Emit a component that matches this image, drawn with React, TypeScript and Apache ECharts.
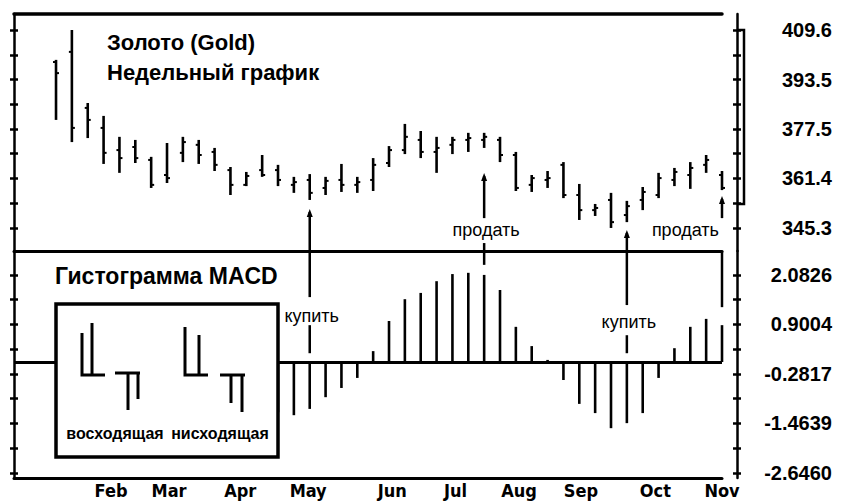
import React, { useEffect, useRef } from "react";
import * as echarts from "echarts";

// Weekly gold bars (week index 0..42)
const highs = [399.9, 409.6, 385.9, 381.7, 374.9, 373.9, 368.4, 372.9, 374.9, 373.9, 371.3, 365.1, 363.5, 369.0, 365.8, 361.9, 362.8, 361.9, 366.1, 361.9, 368.0, 371.9, 379.1, 376.8, 374.9, 374.9, 376.2, 376.2, 374.9, 370.0, 362.5, 363.8, 366.7, 359.6, 353.1, 356.7, 354.1, 358.6, 363.2, 364.8, 366.7, 369.0, 363.8];
const lows = [380.4, 373.2, 374.5, 366.1, 363.2, 366.4, 358.3, 359.9, 366.7, 366.1, 363.8, 356.0, 358.9, 361.9, 358.9, 356.7, 354.4, 356.0, 357.0, 356.7, 357.3, 365.1, 369.3, 368.0, 363.2, 369.3, 370.0, 371.3, 366.7, 357.3, 357.0, 358.3, 355.0, 347.9, 349.2, 345.3, 347.2, 351.1, 355.0, 358.9, 358.0, 363.2, 357.6];
const opens = [399.2, 402.5, 384.3, 377.8, 370.6, 371.6, 367.4, 362.5, 369.7, 372.3, 370.0, 364.1, 359.3, 364.1, 364.1, 359.3, 360.9, 358.3, 360.9, 359.3, 360.9, 366.4, 370.6, 373.9, 370.0, 372.3, 373.9, 373.9, 373.9, 369.0, 359.3, 360.9, 365.8, 356.0, 351.1, 354.4, 349.5, 354.4, 356.0, 360.9, 362.5, 365.8, 362.5];
const closes = [395.6, 377.8, 380.4, 369.7, 368.0, 368.0, 359.3, 361.5, 373.2, 369.0, 365.8, 359.3, 362.2, 362.5, 360.9, 360.2, 356.7, 360.6, 359.3, 360.2, 365.8, 370.6, 374.9, 370.0, 371.3, 373.9, 374.5, 374.9, 369.0, 358.3, 361.5, 361.5, 356.0, 351.1, 351.8, 347.2, 352.4, 357.0, 361.5, 363.5, 364.8, 367.4, 358.3];

// MACD histogram (weeks 0..13 hidden behind the legend box)
const macdHist: (number | null)[] = [null, null, null, null, null, null, null, null, null, null, null, null, null, null, -1.2, -1.27, -1.12, -0.84, -0.62, -0.38, 0.26, 0.98, 1.5, 1.65, 1.93, 2.1, 2.13, 2.08, 1.72, 0.84, 0.38, 0.05, -0.43, -1.0, -1.22, -1.58, -1.46, -1.22, -0.38, 0.33, 0.84, 1.03, 0.88];

// Month labels and their position in week units
const monthLabels = ["Feb", "Mar", "Apr", "May", "Jun", "Jul", "Aug", "Sep", "Oct", "Nov"];
const monthPositions = [3.47, 7.13, 11.62, 15.9, 21.2, 25.2, 29.2, 33.1, 37.8, 42.0];

// Axis ticks and labels
const priceLabels = [345.3, 361.4, 377.5, 393.5, 409.6];
const priceTicks = [345.3, 353.34, 361.4, 369.45, 377.5, 385.5, 393.5, 401.55, 409.6];
const macdLabels = [2.0826, 0.9004, -0.2817, -1.4639, -2.646];
const macdTicks = [2.6737, 2.0826, 1.4915, 0.9004, 0.3094, -0.2817, -0.8728, -1.4639, -2.055, -2.646];

// Trading signals
const signalWeeks = [16, 27, 36, 42];
const signalNames = ["купить", "продать", "купить", "продать"];
const signalPriceSegments = [[[350.5, 337.8]], [[362.2, 348.5], [340.4, 337.8]], [[343.7, 337.8]], [[354.7, 348.5]]];
const signalMacdSegments = [[[2.66, 1.55], [0.88, 0.21]], [[2.66, 2.32]], [[2.66, 1.36], [0.64, 0.21]], [[2.66, 1.31]]];
const signalLabelPrice: (number | null)[] = [null, 344.6, null, 344.6];
const signalLabelMacd: (number | null)[] = [1.1, null, 0.96, null];

const PRICE_MIN = 337.82;
const PRICE_MAX = 414.8;
const MACD_MIN = -2.77;
const MACD_MAX = 2.651;
const X_MIN = -2.65;
const X_MAX = 42;

const BOLD = "bold 22px 'Liberation Sans', Arial, sans-serif";

export default function App() {
  const ref = useRef<HTMLDivElement>(null);
  useEffect(() => {
    if (!ref.current) return;
    const chart = echarts.init(ref.current, null, { renderer: "svg" });

    const ohlc = highs.map((h, i) => [i, h, lows[i], opens[i], closes[i]]);
    const hist = macdHist
      .map((v, i) => (v === null ? null : [i, v]))
      .filter((d) => d !== null);

    const priceSegs: number[][] = [];
    signalWeeks.forEach((w, k) => {
      signalPriceSegments[k].forEach((s, j) => priceSegs.push([w, s[0], s[1], j === 0 ? 1 : 0]));
    });
    const macdSegs: number[][] = [];
    signalWeeks.forEach((w, k) => {
      signalMacdSegments[k].forEach((s) => macdSegs.push([w, s[0], s[1], 0]));
    });
    const priceLabelData: any[] = [];
    const macdLabelData: any[] = [];
    signalWeeks.forEach((w, k) => {
      if (signalLabelPrice[k] !== null) priceLabelData.push([w, signalLabelPrice[k], k]);
      if (signalLabelMacd[k] !== null) macdLabelData.push([w, signalLabelMacd[k], k]);
    });
    const lastWeek = highs.length - 1;

    const segRender = (params: any, api: any) => {
      const a = api.coord([api.value(0), api.value(1)]);
      const b = api.coord([api.value(0), api.value(2)]);
      const children: any[] = [
        { type: "line", shape: { x1: a[0], y1: a[1], x2: b[0], y2: b[1] }, style: { stroke: "#000", lineWidth: 2.5 } },
      ];
      if (api.value(3) === 1) {
        children.push({
          type: "polygon",
          shape: { points: [[a[0], a[1] - 3], [a[0] - 3, a[1] + 5], [a[0] + 3, a[1] + 5]] },
          style: { fill: "#000" },
        });
      }
      return { type: "group", children };
    };

    const labelRender = (params: any, api: any) => {
      const w = api.value(0);
      const p = api.coord([w, api.value(1)]);
      const k = api.value(2);
      const isLast = w === lastWeek;
      return {
        type: "text",
        style: {
          text: signalNames[k],
          x: isLast ? p[0] - 3 : p[0] + 2,
          y: p[1],
          textAlign: isLast ? "right" : "center",
          textVerticalAlign: "middle",
          font: "18px 'Liberation Sans', Arial, sans-serif",
          fill: "#000",
        },
      };
    };

    const yBase = (gridIndex: number, min: number, max: number, position: string, ticks: number[], inside: boolean, offset = 0) => ({
      type: "value",
      gridIndex,
      min,
      max,
      position,
      offset,
      axisLine: { show: !inside, onZero: false, lineStyle: { color: "#000", width: 2.5 } },
      axisTick: { show: true, inside, length: 4, customValues: ticks, lineStyle: { color: "#000", width: 2.5 } },
      axisLabel: { show: false },
      splitLine: { show: false },
    });

    const rightLabelStyle = {
      show: true,
      align: "right",
      margin: 95,
      color: "#000",
      fontFamily: "'Liberation Sans', Arial, sans-serif",
      fontWeight: "bold",
      fontSize: 20,
      padding: [0, 0, 8, 0],
    };

    const option: any = {
      animation: false,
      backgroundColor: "#fff",
      grid: [
        { left: 14, right: 122, top: 14, height: 237, outerBoundsMode: "none" },
        { left: 14, right: 122, top: 251, height: 227, outerBoundsMode: "none" },
      ],
      xAxis: [
        {
          type: "value", gridIndex: 0, min: X_MIN, max: X_MAX, position: "top",
          axisLine: { onZero: false, lineStyle: { color: "#000", width: 3.5 } },
          axisTick: { show: false }, axisLabel: { show: false }, splitLine: { show: false },
        },
        {
          type: "value", gridIndex: 0, min: X_MIN, max: X_MAX, position: "bottom",
          axisLine: { onZero: false, lineStyle: { color: "#000", width: 3 } },
          axisTick: { show: false }, axisLabel: { show: false }, splitLine: { show: false },
        },
        {
          type: "value", gridIndex: 1, min: X_MIN, max: X_MAX, position: "bottom",
          axisLine: { onZero: false, lineStyle: { color: "#000", width: 3 } },
          axisTick: { show: false },
          axisLabel: {
            show: true,
            customValues: monthPositions,
            formatter: (v: number) => {
              const i = monthPositions.findIndex((m) => Math.abs(m - v) < 1e-6);
              return i >= 0 ? monthLabels[i] : "";
            },
            margin: 3,
            color: "#000",
            fontFamily: "'Liberation Sans Narrow', 'DejaVu Sans Condensed', 'Liberation Sans', sans-serif",
            fontWeight: "bold",
            fontSize: 18,
          },
          splitLine: { show: false },
        },
      ],
      yAxis: [
        yBase(0, PRICE_MIN, PRICE_MAX, "left", priceTicks, false),
        yBase(0, PRICE_MIN, PRICE_MAX, "left", priceTicks, true),
        {
          ...yBase(0, PRICE_MIN, PRICE_MAX, "right", priceTicks, false, 15),
          axisLabel: { ...rightLabelStyle, customValues: priceLabels, formatter: (v: number) => v.toFixed(1) },
        },
        yBase(0, PRICE_MIN, PRICE_MAX, "right", priceTicks, true, 15),
        yBase(1, MACD_MIN, MACD_MAX, "left", macdTicks, false),
        yBase(1, MACD_MIN, MACD_MAX, "left", macdTicks, true),
        {
          ...yBase(1, MACD_MIN, MACD_MAX, "right", macdTicks, false, 15),
          axisLabel: { ...rightLabelStyle, customValues: macdLabels, formatter: (v: number) => v.toFixed(4) },
        },
        yBase(1, MACD_MIN, MACD_MAX, "right", macdTicks, true, 15),
      ],
      series: [
        {
          type: "custom",
          name: "Gold",
          xAxisIndex: 0,
          yAxisIndex: 0,
          clip: false,
          encode: { x: 0, y: [1, 2, 3, 4] },
          data: ohlc,
          renderItem: (params: any, api: any) => {
            const i = api.value(0);
            const hi = api.coord([i, api.value(1)]);
            const lo = api.coord([i, api.value(2)]);
            const op = api.coord([i, api.value(3)]);
            const cl = api.coord([i, api.value(4)]);
            return {
              type: "group",
              children: [
                { type: "line", shape: { x1: hi[0], y1: hi[1], x2: lo[0], y2: lo[1] }, style: { stroke: "#000", lineWidth: 2.6 } },
                { type: "line", shape: { x1: op[0] - 3, y1: op[1], x2: op[0], y2: op[1] }, style: { stroke: "#000", lineWidth: 2 } },
                { type: "line", shape: { x1: cl[0], y1: cl[1], x2: cl[0] + 3, y2: cl[1] }, style: { stroke: "#000", lineWidth: 2 } },
              ],
            };
          },
        },
        {
          type: "custom",
          name: "signals-price",
          xAxisIndex: 0,
          yAxisIndex: 0,
          clip: false,
          encode: { x: 0, y: [1, 2] },
          data: priceSegs,
          renderItem: segRender,
        },
        {
          type: "custom",
          name: "signal-labels-price",
          xAxisIndex: 0,
          yAxisIndex: 0,
          clip: false,
          encode: { x: 0, y: 1 },
          data: priceLabelData,
          renderItem: labelRender,
          z: 5,
        },
        {
          type: "bar",
          name: "MACD",
          xAxisIndex: 2,
          yAxisIndex: 4,
          barWidth: 2.6,
          clip: false,
          itemStyle: { color: "#000" },
          data: hist,
          markLine: {
            silent: true,
            symbol: "none",
            label: { show: false },
            lineStyle: { color: "#000", width: 3, type: "solid" },
            data: [{ yAxis: 0 }],
          },
        },
        {
          type: "custom",
          name: "signals-macd",
          xAxisIndex: 2,
          yAxisIndex: 4,
          clip: false,
          encode: { x: 0, y: [1, 2] },
          data: macdSegs,
          renderItem: segRender,
        },
        {
          type: "custom",
          name: "signal-labels-macd",
          xAxisIndex: 2,
          yAxisIndex: 4,
          clip: false,
          encode: { x: 0, y: 1 },
          data: macdLabelData,
          renderItem: labelRender,
          z: 5,
        },
      ],
      graphic: [
        { type: "text", z: 100, style: { text: "Золото (Gold)", x: 107, y: 42, textVerticalAlign: "middle", font: BOLD, fill: "#000" } },
        { type: "text", z: 100, style: { text: "Недельный график", x: 107, y: 72, textVerticalAlign: "middle", font: BOLD, fill: "#000" } },
        { type: "text", z: 100, style: { text: "Гистограмма MACD", x: 55, y: 276, textVerticalAlign: "middle", font: "bold 23px 'Liberation Sans', Arial, sans-serif", fill: "#000" } },
        // bracket on right axis
        { type: "polyline", z: 100, shape: { points: [[737, 30], [744, 30], [744, 204], [737, 204]] }, style: { stroke: "#000", lineWidth: 2.5, fill: "none" } },
        // legend box
        {
          type: "group",
          z: 100,
          children: [
            { type: "rect", z: 100, shape: { x: 56, y: 304, width: 222, height: 153 }, style: { fill: "#fff", stroke: "#000", lineWidth: 3.5 } },
            // rising glyph
            { type: "polyline", z: 101, shape: { points: [[82, 333], [82, 375], [105, 375]] }, style: { stroke: "#000", lineWidth: 3, fill: "none" } },
            { type: "line", z: 101, shape: { x1: 92, y1: 323, x2: 92, y2: 375 }, style: { stroke: "#000", lineWidth: 3 } },
            { type: "line", z: 101, shape: { x1: 115, y1: 373, x2: 140, y2: 373 }, style: { stroke: "#000", lineWidth: 3 } },
            { type: "line", z: 101, shape: { x1: 128, y1: 373, x2: 128, y2: 410 }, style: { stroke: "#000", lineWidth: 3 } },
            { type: "line", z: 101, shape: { x1: 138, y1: 373, x2: 138, y2: 399 }, style: { stroke: "#000", lineWidth: 3 } },
            // falling glyph
            { type: "polyline", z: 101, shape: { points: [[185, 327], [185, 375], [208, 375]] }, style: { stroke: "#000", lineWidth: 3, fill: "none" } },
            { type: "line", z: 101, shape: { x1: 199, y1: 335, x2: 199, y2: 375 }, style: { stroke: "#000", lineWidth: 3 } },
            { type: "line", z: 101, shape: { x1: 220, y1: 375, x2: 245, y2: 375 }, style: { stroke: "#000", lineWidth: 3 } },
            { type: "line", z: 101, shape: { x1: 231, y1: 375, x2: 231, y2: 403 }, style: { stroke: "#000", lineWidth: 3 } },
            { type: "line", z: 101, shape: { x1: 242, y1: 375, x2: 242, y2: 412 }, style: { stroke: "#000", lineWidth: 3 } },
            { type: "text", z: 101, style: { text: "восходящая", x: 115, y: 433, textAlign: "center", textVerticalAlign: "middle", font: "bold 16px 'Liberation Sans', Arial, sans-serif", fill: "#000" } },
            { type: "text", z: 101, style: { text: "нисходящая", x: 220, y: 433, textAlign: "center", textVerticalAlign: "middle", font: "bold 16px 'Liberation Sans', Arial, sans-serif", fill: "#000" } },
          ],
        },
      ],
    };

    chart.setOption(option);
    return () => chart.dispose();
  }, []);

  return <div ref={ref} style={{ position: "absolute", left: 0, top: 0, width: 844, height: 504 }} />;
}
